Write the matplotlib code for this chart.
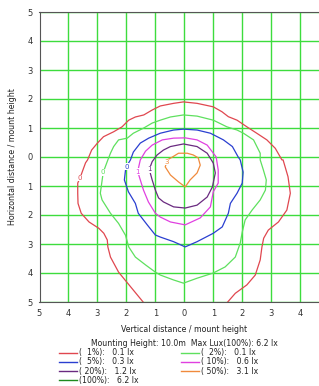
import matplotlib.pyplot as plt
from matplotlib.lines import Line2D

# contour lines (x = vertical distance, y = horizontal distance)
red_x = [-1.34, -1.76, -2.27, -2.55, -2.64, -2.66, -2.78, -2.95, -3.29, -3.56, -3.67, -3.68, -3.68, -3.6,
         -3.41, -3.34, -3.2, -3.0, -2.79, -2.44, -2.15, -1.92, -1.69, -1.4, -1.11, -0.83, -0.37, -0.03,
         0.44, 1.0, 1.3, 1.52, 1.82, 2.16, 2.5, 2.85, 3.14, 3.37, 3.41, 3.58, 3.66, 3.54, 3.25, 2.9, 2.74,
         2.68, 2.62, 2.45, 2.16, 1.76, 1.41]
red_y = [-5.1, -4.59, -3.97, -3.45, -3.1, -2.86, -2.63, -2.46, -2.24, -1.94, -1.6, -1.25, -0.9, -0.72,
         -0.2, -0.1, 0.24, 0.48, 0.7, 0.87, 1.04, 1.27, 1.38, 1.45, 1.62, 1.76, 1.85, 1.9,
         1.85, 1.73, 1.56, 1.39, 1.27, 1.04, 0.82, 0.59, 0.3, -0.1, -0.1, -0.68, -1.25, -1.83, -2.24, -2.52, -2.8,
         -3.1, -3.55, -4.07, -4.41, -4.7, -5.1]

green_x = [-2.8, -2.9, -2.84, -2.55, -2.27, -2.03, -1.92, -1.69, -1.34, -1.0, -0.83, -0.37, -0.03, 0.44,
           1.0, 1.41, 1.76, 1.93, 2.0, 2.1, 2.34, 2.62, 2.8, 2.83, 2.73, 2.62, 2.62, 2.39, 2.04, 1.82, 1.47,
           1.0, 0.44, -0.03, -0.48, -0.83, -1.11, -1.4, -1.76, -1.97, -2.27, -2.44, -2.55, -2.64, -2.8]
green_y = [-0.53, -1.25, -1.48, -1.94, -2.29, -2.7, -3.1, -3.45, -3.72, -3.97, -4.07, -4.24, -4.35, -4.18,
           -4.0, -3.79, -3.45, -2.97, -2.59, -2.17, -1.83, -1.48, -1.14, -0.79, -0.45, -0.1, 0.13, 0.59, 0.82, 0.93, 1.04,
           1.27, 1.41, 1.45, 1.38, 1.27, 1.17, 1.0, 0.82, 0.65, 0.59, 0.36, 0.13, -0.1, -0.53]

blue_x = [-2.0, -1.86, -1.76, -1.52, -1.23, -0.83, -0.37, -0.03, 0.44, 0.9, 1.35, 1.66, 1.86, 1.93, 2.03,
          2.0, 1.82, 1.59, 1.52, 1.31, 1.0, 0.44, 0.03, -0.37, -0.83, -1.0, -1.28, -1.59, -1.69, -1.93,
          -2.07, -2.03, -2.0]
blue_y = [-0.33, -0.1, 0.17, 0.48, 0.65, 0.82, 0.93, 0.96, 0.93, 0.82, 0.59, 0.36, 0.0, -0.1, -0.52,
          -0.9, -1.25, -1.6, -1.94, -2.41, -2.63, -2.92, -3.1, -2.92, -2.76, -2.69, -2.34, -1.94, -1.6, -1.2,
          -0.79, -0.45, -0.33]

magenta_x = [-1.61, -1.52, -1.34, -1.11, -0.76, -0.37, 0.03, 0.44, 0.79, 1.1, 1.17, 1.17, 1.0, 0.9,
             0.55, 0.03, -0.48, -0.83, -1.0, -1.24, -1.41, -1.52, -1.61]
magenta_y = [-0.5, -0.1, 0.2, 0.41, 0.59, 0.65, 0.66, 0.59, 0.41, 0.0, -0.45, -0.9, -1.2, -1.72,
             -2.1, -2.34, -2.24, -2.07, -1.94, -1.55, -1.14, -0.79, -0.5]

purple_x = [-1.21, -1.11, -0.94, -0.72, -0.48, -0.03, 0.44, 0.79, 1.0, 1.07, 0.97, 0.79, 0.44, 0.03, -0.37,
            -0.72, -0.89, -1.0, -1.11, -1.21]
purple_y = [-0.43, -0.16, 0.07, 0.24, 0.36, 0.45, 0.36, 0.13, -0.21, -0.55, -1.03, -1.38, -1.66, -1.76, -1.72,
            -1.55, -1.41, -1.14, -0.79, -0.43]

orange_x = [-0.6, -0.66, -0.48, -0.2, 0.03, 0.2, 0.44, 0.55, 0.48, 0.31, 0.1, -0.2, -0.41, -0.59, -0.6]
orange_y = [-0.16, -0.34, -0.62, -0.86, -1.03, -0.79, -0.55, -0.28, -0.03, 0.07, 0.13, 0.13, 0.0, -0.1, -0.16]

# value labels sitting on each contour
label_text = ['0', '0', '0', '1', '1', '3']
label_x = [-3.6, -2.8, -2.0, -1.61, -1.21, -0.6]
label_y = [-0.72, -0.53, -0.33, -0.5, -0.43, -0.16]

colors = ['#e0474f', '#5ee05e', '#2a3fd0', '#e040e0', '#6a2a80', '#f08a3c']
contours = [(red_x, red_y), (green_x, green_y), (blue_x, blue_y),
            (magenta_x, magenta_y), (purple_x, purple_y), (orange_x, orange_y)]

legend_pct = ['1%', '2%', '5%', '10%', '20%', '50%', '100%']
legend_lux = [0.1, 0.1, 0.3, 0.6, 1.2, 3.1, 6.2]
legend_colors = colors + ['#1e8a1e']

ticks = [-5, -4, -3, -2, -1, 0, 1, 2, 3, 4, 5]

fig = plt.figure(figsize=(3.19, 3.86), dpi=100)
ax = fig.add_axes([39.5 / 319, 1 - 302 / 386, 1 - 39.5 / 319, 290 / 386])

for (xs, ys), c, t, lx, ly in zip(contours, colors, label_text, label_x, label_y):
    ax.plot(xs, ys, color=c, lw=0.9)
    ax.text(lx, ly, t, color=c, fontsize=5, ha='center', va='center',
            bbox=dict(fc='white', ec='none', pad=0.1))

ax.set_xlim(-5, 4.65)
ax.set_ylim(-5, 5)
ax.set_xticks(ticks[:-1])
ax.set_xticklabels([str(abs(t)) for t in ticks[:-1]])
ax.set_yticks(ticks)
ax.set_yticklabels([str(abs(t)) for t in ticks])
ax.grid(True, color='#3ddc3d', lw=1.0)
ax.set_axisbelow(True)
ax.tick_params(length=0, pad=5, labelsize=6, colors='#333333')
for s in ['left', 'top', 'bottom']:
    ax.spines[s].set_color('#555555')
ax.spines['right'].set_visible(False)

ax.set_xlabel('Vertical distance / mount height', fontsize=5.7, color='#222222')
ax.xaxis.set_label_coords(0.517, -0.079)
ax.set_ylabel('Horizontal distance / mount height', fontsize=5.7, color='#222222')
ax.yaxis.set_label_coords(-0.08, 0.5)

fig.text(184 / 319, 1 - 343 / 386, 'Mounting Height: 10.0m  Max Lux(100%): 6.2 lx',
         fontsize=5.6, ha='center', va='center', color='#222222')

for i, (p, v, c) in enumerate(zip(legend_pct, legend_lux, legend_colors)):
    col = i % 2
    row = i // 2
    x0 = 59 if col == 0 else 181
    yy = 1 - (352.5 + row * 9.3) / 386
    fig.add_artist(Line2D([x0 / 319, (x0 + 18) / 319], [yy, yy], color=c, lw=1.0,
                          transform=fig.transFigure))
    fig.text((x0 + 20) / 319, yy, '(%4s):   %.1f lx' % (p, v), fontsize=5.6, ha='left', va='center',
             color='#222222')

fig.savefig('out.png', dpi=100)
